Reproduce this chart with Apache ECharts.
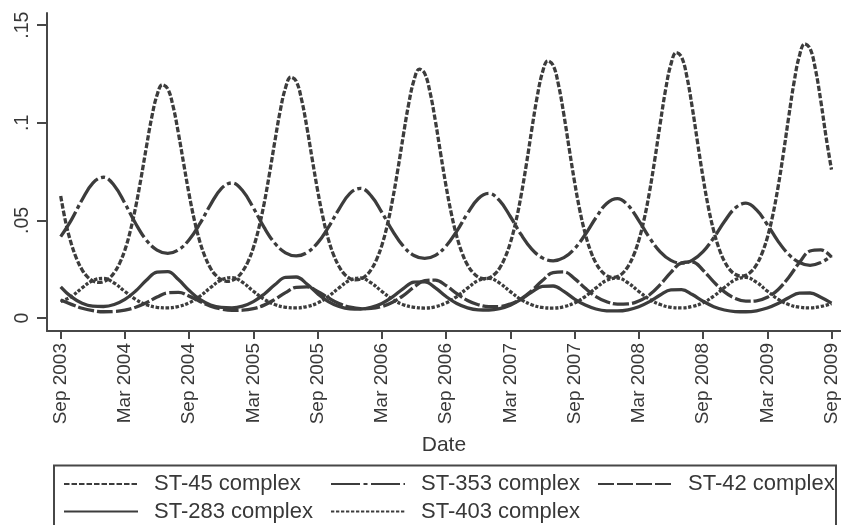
<!DOCTYPE html>
<html><head><meta charset="utf-8">
<script src="https://cdn.jsdelivr.net/npm/echarts@6/dist/echarts.min.js"></script>
<style>html,body{margin:0;padding:0;background:#fff;}#chart{width:841px;height:525px;}</style>
</head><body><div id="chart"></div>
<script>
// Names
const seriesNames = ['ST-45 complex','ST-353 complex','ST-42 complex','ST-283 complex','ST-403 complex'];

// Monthly sampling (months since Sep 2003)
const months = [0,1,2,3,4,5,6,7,8,9,10,11,12,13,14,15,16,17,18,19,20,21,22,23,24,25,26,27,28,29,30,31,32,33,34,35,36,37,38,39,40,41,42,43,44,45,46,47,48,49,50,51,52,53,54,55,56,57,58,59,60,61,62,63,64,65,66,67,68,69,70,71,72];

// Half-month sampling used for the sharp ST-45 peaks
const halfMonths = [0,0.5,1,1.5,2,2.5,3,3.5,4,4.5,5,5.5,6,6.5,7,7.5,8,8.5,9,9.5,10,10.5,11,11.5,
12,12.5,13,13.5,14,14.5,15,15.5,16,16.5,17,17.5,18,18.5,19,19.5,20,20.5,21,21.5,22,22.5,23,23.5,
24,24.5,25,25.5,26,26.5,27,27.5,28,28.5,29,29.5,30,30.5,31,31.5,32,32.5,33,33.5,34,34.5,35,35.5,
36,36.5,37,37.5,38,38.5,39,39.5,40,40.5,41,41.5,42,42.5,43,43.5,44,44.5,45,45.5,46,46.5,47,47.5,
48,48.5,49,49.5,50,50.5,51,51.5,52,52.5,53,53.5,54,54.5,55,55.5,56,56.5,57,57.5,58,58.5,59,59.5,
60,60.5,61,61.5,62,62.5,63,63.5,64,64.5,65,65.5,66,66.5,67,67.5,68,68.5,69,69.5,70,70.5,71,71.5,72];

const st45 = [
0.0625,0.0482,0.0379,0.0302,0.0247,0.0211,0.0190,0.0182,0.0186,0.0202,0.0232,0.0280,0.0349,0.0445,0.0568,0.0715,0.0875,0.1027,0.1142,0.1195,0.1174,0.1084,0.0945,0.0787,
0.0632,0.0498,0.0391,0.0312,0.0255,0.0218,0.0197,0.0188,0.0192,0.0209,0.0240,0.0289,0.0361,0.0459,0.0586,0.0739,0.0904,0.1060,0.1179,0.1234,0.1213,0.1119,0.0976,0.0812,
0.0653,0.0515,0.0404,0.0322,0.0264,0.0225,0.0203,0.0195,0.0199,0.0216,0.0248,0.0299,0.0373,0.0474,0.0606,0.0763,0.0934,0.1095,0.1218,0.1275,0.1253,0.1156,0.1009,0.0839,
0.0675,0.0532,0.0418,0.0332,0.0272,0.0233,0.0210,0.0201,0.0205,0.0223,0.0256,0.0309,0.0385,0.0490,0.0626,0.0788,0.0965,0.1131,0.1258,0.1317,0.1294,0.1194,0.1042,0.0867,
0.0697,0.0549,0.0431,0.0343,0.0281,0.0241,0.0217,0.0208,0.0212,0.0230,0.0265,0.0319,0.0398,0.0506,0.0646,0.0814,0.0996,0.1169,0.1300,0.1360,0.1336,0.1234,0.1076,0.0895,
0.0720,0.0567,0.0446,0.0355,0.0290,0.0248,0.0224,0.0215,0.0219,0.0238,0.0273,0.0330,0.0411,0.0523,0.0668,0.0841,0.1029,0.1207,0.1343,0.1405,0.1380,0.1274,0.1112,0.0925,
0.0760];

const st353 = [
0.0417,0.0503,0.0606,0.0691,0.0721,0.0679,0.0587,0.0484,0.0399,0.0348,0.0331,0.0349,
0.0401,0.0483,0.0581,0.0663,0.0692,0.0652,0.0564,0.0464,0.0383,0.0334,0.0318,0.0335,
0.0385,0.0464,0.0558,0.0637,0.0664,0.0626,0.0541,0.0446,0.0368,0.0320,0.0305,0.0321,
0.0369,0.0445,0.0536,0.0611,0.0638,0.0601,0.0520,0.0428,0.0353,0.0308,0.0293,0.0309,
0.0355,0.0428,0.0514,0.0587,0.0612,0.0577,0.0499,0.0411,0.0339,0.0295,0.0281,0.0296,
0.0340,0.0411,0.0494,0.0563,0.0588,0.0554,0.0479,0.0394,0.0326,0.0284,0.0270,0.0284,
0.0318];

const st42 = [
0.0092,0.0070,0.0050,0.0038,0.0032,0.0033,0.0040,0.0055,0.0078,0.0107,0.0129,0.0131,
0.0112,0.0085,0.0061,0.0046,0.0039,0.0040,0.0048,0.0066,0.0095,0.0130,0.0157,0.0159,
0.0136,0.0103,0.0074,0.0056,0.0048,0.0049,0.0059,0.0081,0.0115,0.0158,0.0191,0.0194,
0.0166,0.0125,0.0090,0.0068,0.0058,0.0059,0.0072,0.0098,0.0140,0.0192,0.0232,0.0236,
0.0202,0.0152,0.0110,0.0083,0.0071,0.0072,0.0087,0.0119,0.0171,0.0234,0.0282,0.0287,
0.0245,0.0185,0.0134,0.0101,0.0086,0.0088,0.0106,0.0145,0.0208,0.0284,0.0343,0.0349,
0.0312];

const st283 = [
0.0160,0.0108,0.0076,0.0061,0.0059,0.0069,0.0095,0.0138,0.0193,0.0235,0.0238,0.0197,
0.0141,0.0095,0.0067,0.0054,0.0052,0.0061,0.0084,0.0122,0.0170,0.0208,0.0210,0.0174,
0.0125,0.0084,0.0059,0.0047,0.0046,0.0054,0.0074,0.0108,0.0151,0.0184,0.0185,0.0154,
0.0110,0.0074,0.0052,0.0042,0.0041,0.0048,0.0066,0.0095,0.0133,0.0162,0.0164,0.0136,
0.0097,0.0066,0.0046,0.0037,0.0036,0.0042,0.0058,0.0084,0.0118,0.0144,0.0145,0.0120,
0.0086,0.0058,0.0041,0.0033,0.0032,0.0037,0.0051,0.0074,0.0104,0.0127,0.0128,0.0106,
0.0076];

const st403 = [
0.0085,0.0110,0.0154,0.0192,0.0203,0.0179,0.0136,0.0095,0.0068,0.0055,0.0052,0.0059,
0.0078,0.0111,0.0156,0.0195,0.0207,0.0182,0.0137,0.0096,0.0069,0.0055,0.0052,0.0059,
0.0077,0.0110,0.0154,0.0193,0.0205,0.0180,0.0136,0.0095,0.0068,0.0055,0.0051,0.0058,
0.0077,0.0110,0.0153,0.0192,0.0203,0.0179,0.0135,0.0095,0.0068,0.0054,0.0051,0.0058,
0.0077,0.0110,0.0154,0.0193,0.0205,0.0180,0.0136,0.0096,0.0069,0.0055,0.0052,0.0059,
0.0078,0.0112,0.0156,0.0196,0.0208,0.0183,0.0138,0.0097,0.0069,0.0055,0.0052,0.0059,
0.0074];

// Ticks
const xTickValues = [0,6,12,18,24,30,36,42,48,54,60,66,72];
const xTickLabels = ['Sep 2003','Mar 2004','Sep 2004','Mar 2005','Sep 2005','Mar 2006','Sep 2006','Mar 2007','Sep 2007','Mar 2008','Sep 2008','Mar 2009','Sep 2009'];
const yTickValues = [0,0.05,0.1,0.15];
const yTickLabels = ['0','.05','.1','.15'];

const FONT = 'Liberation Sans, Arial, Helvetica, sans-serif';
const INK = '#383838';
const LINE = '#3c3c3c';
const AXIS = '#474747';

function pairs(xs, ys){ return xs.map((x,i)=>[x, ys[i]]); }
function lookup(vals, labels, v){
  for (let i=0;i<vals.length;i++){ if (Math.abs(vals[i]-v) < 1e-9) return labels[i]; }
  return '';
}
function legendAt(name, left, top){
  return {
    data:[name], left:left, top:top, orient:'horizontal', padding:0,
    itemWidth:74, itemHeight:14, itemGap:0, selectedMode:false,
    itemStyle:{opacity:0},
    textStyle:{fontFamily:FONT, fontSize:22, color:INK, padding:[0,0,0,11]}
  };
}

const chart = echarts.init(document.getElementById('chart'), null, {renderer:'canvas'});
chart.setOption({
  animation:false,
  backgroundColor:'#ffffff',
  grid:{left:47, right:0, top:13, bottom:194},
  xAxis:{
    type:'value', min:-1.279, max:72.87,
    name:'Date', nameLocation:'middle', nameGap:104,
    nameTextStyle:{fontFamily:FONT, fontSize:21, color:INK},
    axisLine:{show:true, onZero:false, lineStyle:{color:AXIS, width:2}},
    axisTick:{show:true, length:8, customValues:xTickValues, lineStyle:{color:AXIS, width:2}},
    axisLabel:{show:true, rotate:90, margin:12, customValues:xTickValues,
      fontFamily:FONT, fontSize:19, color:INK,
      formatter:function(v){ return lookup(xTickValues, xTickLabels, v); }},
    splitLine:{show:false}
  },
  yAxis:{
    type:'value', min:-0.00666, max:0.15625,
    axisLine:{show:true, onZero:false, lineStyle:{color:AXIS, width:2}},
    axisTick:{show:true, length:10, customValues:yTickValues, lineStyle:{color:AXIS, width:2}},
    axisLabel:{show:true, rotate:90, margin:14, customValues:yTickValues,
      fontFamily:FONT, fontSize:19.5, color:INK,
      formatter:function(v){ return lookup(yTickValues, yTickLabels, v); }},
    splitLine:{show:false}
  },
  legend:[
    legendAt(seriesNames[0], 63, 473),
    legendAt(seriesNames[1], 330, 473),
    legendAt(seriesNames[2], 597, 473),
    legendAt(seriesNames[3], 63, 500.5),
    legendAt(seriesNames[4], 330, 500.5)
  ],
  graphic:[{
    type:'rect', silent:true, z:100,
    shape:{x:54, y:465.5, width:782, height:80},
    style:{fill:'none', stroke:AXIS, lineWidth:2}
  }],
  series:[
    {name:seriesNames[0], type:'line', data:pairs(halfMonths, st45), symbol:'none', smooth:0.4,
     itemStyle:{color:LINE}, lineStyle:{color:LINE, width:3.3, type:[5.5,2]}},
    {name:seriesNames[1], type:'line', data:pairs(months, st353), symbol:'none', smooth:0.4,
     itemStyle:{color:LINE}, lineStyle:{color:LINE, width:3.3, type:[29,3.5,4,3.5]}},
    {name:seriesNames[2], type:'line', data:pairs(months, st42), symbol:'none', smooth:0.4,
     itemStyle:{color:LINE}, lineStyle:{color:LINE, width:3.3, type:[16,3]}},
    {name:seriesNames[3], type:'line', data:pairs(months, st283), symbol:'none', smooth:0.4,
     itemStyle:{color:LINE}, lineStyle:{color:LINE, width:3.3, type:'solid'}},
    {name:seriesNames[4], type:'line', data:pairs(months, st403), symbol:'none', smooth:0.4,
     itemStyle:{color:LINE}, lineStyle:{color:LINE, width:3.3, type:[3.3,1.7]}}
  ]
});
</script>
</body></html>
